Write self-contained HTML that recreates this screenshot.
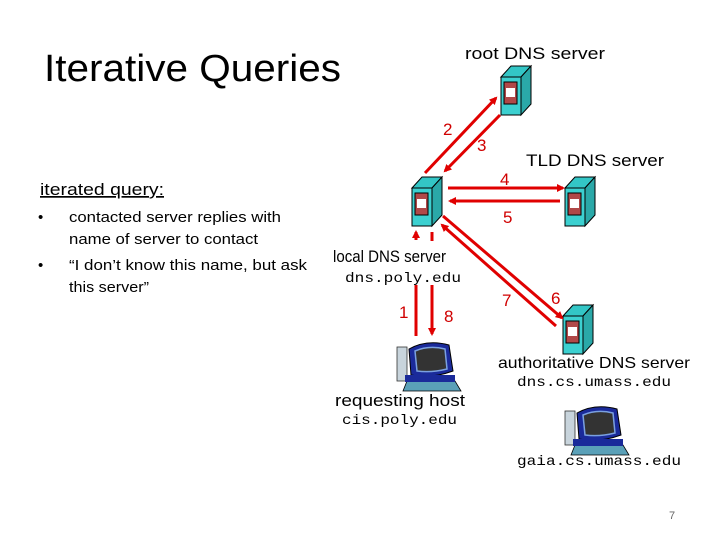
<!DOCTYPE html>
<html><head><meta charset="utf-8"><style>
body{margin:0;background:#fff;}
svg{display:block}
.c{font-family:"Liberation Sans",sans-serif}
.m{font-family:"Liberation Mono",monospace}
.n{fill:#d00000;font-family:"Liberation Sans",sans-serif;font-size:17px}
</style></head><body>
<svg width="720" height="540" viewBox="0 0 720 540" xmlns="http://www.w3.org/2000/svg">
<defs>
<g id="srv">
<polygon points="0,0 10,-11 30,-11 20,0" fill="#33c6c6" stroke="#000" stroke-width="1"/>
<polygon points="20,0 30,-11 30,27 20,38" fill="#2aa8a8" stroke="#000" stroke-width="1"/>
<rect x="0" y="0" width="20" height="38" fill="#3cd0d0" stroke="#000" stroke-width="1"/>
<rect x="3" y="5" width="13" height="22" fill="#b04848" stroke="#000" stroke-width="1"/>
<rect x="5" y="11" width="9" height="9" fill="#fff"/>
</g>
<g id="pc">
<rect x="0" y="8" width="10" height="34" fill="#c8d4dc" stroke="#333" stroke-width="0.8"/>
<path d="M12,10 Q30,0 52,6 L56,32 Q34,40 14,36 Z" fill="#1a2a9a" stroke="#000"/>
<path d="M18,12 Q32,6 48,10 L50,30 Q34,34 20,32 Z" fill="#333" stroke="#7aa0e0" stroke-width="1.5"/>
<path d="M10,42 L58,42 L64,52 L6,52 Z" fill="#5aa0b8" stroke="#000" stroke-width="0.8"/>
<rect x="8" y="36" width="50" height="7" fill="#1a2a9a"/>
</g>
<marker id="ah" markerWidth="8" markerHeight="8" refX="6" refY="4" orient="auto" markerUnits="userSpaceOnUse"><path d="M0,0 L8,4 L0,8 Z" fill="#e00000"/></marker>
</defs>

<text x="44" y="81" class="c" font-size="38" textLength="297" lengthAdjust="spacingAndGlyphs">Iterative Queries</text>
<text x="465" y="59" class="c" font-size="17" textLength="140" lengthAdjust="spacingAndGlyphs">root DNS server</text>
<text x="526" y="166" class="c" font-size="17" textLength="138" lengthAdjust="spacingAndGlyphs">TLD DNS server</text>

<text x="40" y="195" class="c" font-size="17" text-decoration="underline" textLength="124" lengthAdjust="spacingAndGlyphs">iterated query:</text>
<text x="38" y="222" class="c" font-size="15">•</text>
<text x="69" y="222" class="c" font-size="15" textLength="212" lengthAdjust="spacingAndGlyphs">contacted server replies with</text>
<text x="69" y="244" class="c" font-size="15" textLength="189" lengthAdjust="spacingAndGlyphs">name of server to contact</text>
<text x="38" y="270" class="c" font-size="15">•</text>
<text x="69" y="270" class="c" font-size="15" textLength="238" lengthAdjust="spacingAndGlyphs">“I don’t know this name, but ask</text>
<text x="69" y="292" class="c" font-size="15" textLength="80" lengthAdjust="spacingAndGlyphs">this server”</text>

<use href="#srv" x="501" y="77"/>
<use href="#srv" x="412" y="188"/>
<use href="#srv" x="565" y="188"/>
<use href="#srv" x="563" y="316"/>

<g stroke="#e00000" stroke-width="3" fill="none" marker-end="url(#ah)">
<line x1="425" y1="173" x2="496" y2="98"/>
<line x1="500" y1="115" x2="445" y2="171"/>
<line x1="448" y1="188" x2="563" y2="188"/>
<line x1="560" y1="201" x2="450" y2="201"/>
<line x1="443" y1="216" x2="562" y2="318"/>
<line x1="556" y1="326" x2="442" y2="225"/>
<line x1="416" y1="240" x2="416" y2="232"/>
<line x1="432" y1="285" x2="432" y2="334"/>
</g>
<g stroke="#e00000" stroke-width="3">
<line x1="416" y1="285" x2="416" y2="336"/>
<line x1="432" y1="232" x2="432" y2="241"/>
</g>

<text x="443" y="135" class="n">2</text>
<text x="477" y="151" class="n">3</text>
<text x="500" y="185" class="n">4</text>
<text x="503" y="223" class="n">5</text>
<text x="399" y="318" class="n">1</text>
<text x="444" y="322" class="n">8</text>
<text x="502" y="306" class="n">7</text>
<text x="551" y="304" class="n">6</text>

<text x="333" y="262" class="c" font-size="17" textLength="113" lengthAdjust="spacingAndGlyphs">local DNS server</text>
<text x="345" y="282" class="m" font-size="14" textLength="116" lengthAdjust="spacingAndGlyphs">dns.poly.edu</text>
<use href="#pc" x="397" y="339"/>
<text x="335" y="406" class="c" font-size="17" textLength="130" lengthAdjust="spacingAndGlyphs">requesting host</text>
<text x="342" y="424" class="m" font-size="14" textLength="115" lengthAdjust="spacingAndGlyphs">cis.poly.edu</text>
<text x="498" y="368" class="c" font-size="16" textLength="192" lengthAdjust="spacingAndGlyphs">authoritative DNS server</text>
<text x="517" y="386" class="m" font-size="14" textLength="154" lengthAdjust="spacingAndGlyphs">dns.cs.umass.edu</text>
<use href="#pc" x="565" y="403"/>
<text x="517" y="465" class="m" font-size="14" textLength="164" lengthAdjust="spacingAndGlyphs">gaia.cs.umass.edu</text>
<text x="669" y="519" class="c" font-size="11" fill="#666">7</text>
</svg>
</body></html>
